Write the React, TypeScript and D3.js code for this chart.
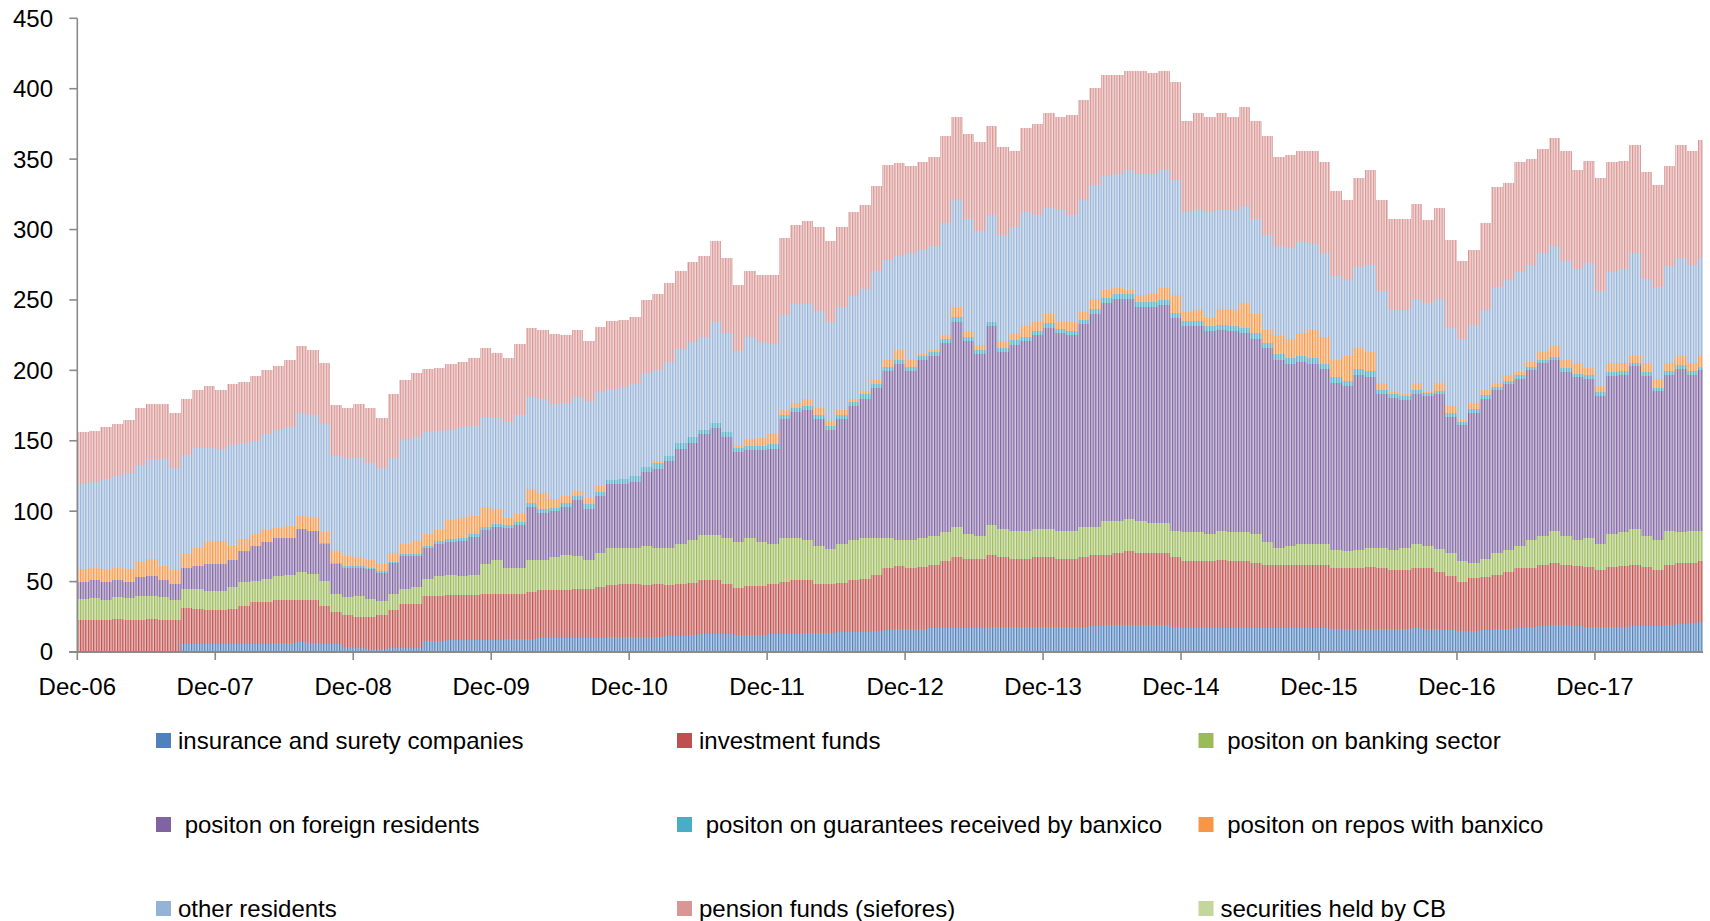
import React from 'react';
import * as d3 from 'd3';

// x axis labels, one per December, and y axis ticks
const xTickLabels = ['Dec-06', 'Dec-07', 'Dec-08', 'Dec-09', 'Dec-10', 'Dec-11', 'Dec-12', 'Dec-13', 'Dec-14', 'Dec-15', 'Dec-16', 'Dec-17'];
const yTicks = [0, 50, 100, 150, 200, 250, 300, 350, 400, 450];

// monthly values, Dec-06 .. Sep-18 (one row per year)
const insurance = [
  0, 0, 0, 0, 0, 0, 0, 0, 0, 5.9, 5.9, 5.9,
  5.9, 5.9, 5.9, 5.9, 5.9, 6.4, 6.4, 6.8, 6.6, 5.9, 5.4, 3.5,
  2.5, 2, 2, 2.5, 3, 3, 8, 8, 8.3, 8.3, 8.3, 8.5,
  8.8, 9, 9, 9.5, 10, 10, 10, 10, 10, 10, 10.5, 10.5,
  10.4, 11, 11, 11.5, 11.5, 12, 12.5, 13, 12.5, 12, 12, 12,
  12.5, 13, 13, 13.5, 13.5, 13.5, 14, 14, 14, 15, 15.6, 16,
  16, 16, 16.7, 16.7, 17, 17, 17, 17.5, 17.5, 17.5, 17.5, 17.5,
  17.5, 17.5, 17.5, 18, 18.3, 18.9, 18.9, 18.9, 18.9, 18.9, 18.9, 17.5,
  17, 17, 17, 17, 17, 17, 17, 16.7, 16.7, 16.7, 16.7, 16.7,
  16.7, 16.3, 16.3, 16.3, 16.3, 16.3, 16.3, 16.3, 17, 16.3, 16, 15.6,
  14.8, 15, 15.5, 16, 16.5, 17, 17.5, 18.5, 19, 18.9, 18.3, 18,
  17.5, 17.8, 18, 18.5, 18.5, 18.5, 19.5, 20.2, 20.5, 21.5,
];
const investmentFunds = [
  22.4, 22.4, 22.4, 23.6, 23, 23, 23.6, 23, 22.4, 25.5, 24.8, 24.1,
  24.1, 24.8, 27.1, 29.5, 29.5, 30.2, 30.2, 29.8, 30, 27.1, 22.9, 22.5,
  22.5, 23, 24.4, 27.5, 31, 31, 31.5, 32, 32.4, 32.4, 32.4, 33,
  32.2, 32, 32.5, 33.2, 34, 34, 34, 34.5, 34.5, 36.5, 37.3, 37.5,
  37.6, 36.4, 37, 35.9, 36.5, 37, 38.3, 37.8, 35.7, 33.6, 35, 35,
  35.7, 36.5, 37.8, 37.3, 34.7, 34.7, 35, 36.8, 38, 39.7, 44.4, 45,
  43.3, 44.6, 45.3, 47.9, 50.4, 49, 49, 51.2, 49.9, 48.5, 48.5, 49.9,
  49.9, 48.5, 48.5, 49.4, 50.4, 49.8, 51.1, 52.5, 51.1, 51.1, 51.1, 49.9,
  47.7, 47.7, 47.7, 48.2, 47.7, 47.7, 46.3, 45.3, 45.3, 45.3, 45.3, 45.3,
  45.3, 43, 43, 43, 44.3, 43, 41.7, 41.7, 42.3, 43, 41, 38.4,
  35.2, 37.5, 37.5, 39, 40.1, 42.3, 42.5, 43.5, 44.3, 43.1, 42.7, 42.6,
  40.5, 42.8, 43, 43.5, 42.1, 39.5, 42.5, 43.1, 42.8, 43.1,
];
const bankingSector = [
  15.3, 15.6, 14.2, 15.4, 15, 17, 16.4, 16, 14.2, 13.4, 14.1, 13.6,
  13.6, 15.3, 16.5, 15.3, 16.6, 17.4, 18.4, 20, 18.8, 17.7, 12.7, 13,
  15, 12.7, 10.1, 11.5, 11, 12.5, 12.5, 14, 14.3, 13.3, 14.3, 21.3,
  24, 19, 18.5, 22.3, 21, 23.6, 25, 23.5, 20.9, 23.5, 26.2, 26,
  26, 28.1, 26, 26.6, 28.8, 30.4, 32.5, 32.5, 32.5, 32.4, 33.7, 31,
  28.6, 31.2, 29.9, 28.6, 27.3, 24.8, 27.8, 28.6, 28.7, 26, 20.7, 18.5,
  20.2, 20.2, 20.2, 20.3, 21.6, 17.5, 16.2, 21.6, 20.2, 20.2, 20.2, 20.2,
  20.2, 20.2, 20.2, 21.6, 20.3, 24.3, 23, 22.9, 23, 21.6, 21.6, 18.8,
  20.2, 20.2, 18.8, 21, 20.2, 20.2, 20.2, 16.2, 12, 13.4, 14.8, 14.8,
  14.8, 13.4, 12.1, 13.4, 13.4, 14.7, 14.7, 16, 17.5, 16.1, 16, 16,
  14.6, 10.8, 13, 15, 16.1, 16.1, 19.5, 20.2, 22.9, 20.2, 18.5, 20.2,
  18.8, 22.9, 23.9, 25.6, 21.6, 21.5, 24.2, 21.6, 22.9, 21.6,
];
const foreignResidents = [
  11.8, 13, 12.9, 12, 12, 13, 14, 12, 11.4, 15.2, 16.2, 18.9,
  18.9, 19, 22.5, 24.8, 26, 27, 26, 30.4, 30.6, 26, 21.5, 21,
  20, 21.3, 19.9, 21.5, 23, 21.5, 22, 22.7, 23, 25, 26.7, 23.9,
  24, 28, 30.2, 38, 34, 32.4, 34, 40, 36.4, 40.6, 45, 45.5,
  47, 52.1, 56, 61.4, 67.7, 69, 71.7, 75.7, 71.7, 64, 62.6, 65.3,
  67.7, 84.7, 89.9, 92.6, 89.9, 84.6, 88.6, 95.1, 99.3, 106.8, 118.5, 124.9,
  119.9, 126.7, 128, 134.7, 145.5, 137.5, 129.4, 141.5, 125.4, 132.1, 134.8, 137.4,
  142.8, 140.2, 138.8, 144.1, 150.9, 155, 157.6, 156.3, 152.3, 153.7, 155, 151,
  146.9, 146.9, 144.2, 142.8, 142.8, 141.5, 138.8, 137.4, 133.5, 129.4, 129.4, 128,
  124, 118.6, 117.2, 124, 121.4, 109.3, 107.9, 105.2, 106.5, 106.6, 110, 97,
  96.4, 106.7, 114, 116, 117.3, 118.6, 120.5, 122.8, 120.8, 116.8, 115.5, 113.2,
  105.2, 112.5, 112.1, 115.4, 113.8, 105.5, 110.8, 116.1, 110.8, 113.8,
];
const guarantees = [
  0, 0, 0, 0, 0, 0, 0, 0, 0, 0, 0, 0,
  0, 0, 0, 0, 0, 0, 0, 0, 0, 0.5, 1, 1,
  1, 1, 1, 1, 1.5, 1.5, 1.5, 2, 2, 2, 2, 2,
  2, 2, 2, 2.5, 2.5, 2.5, 2.5, 3, 3, 3, 3, 3.5,
  4, 3.9, 4.5, 3.6, 3.9, 4, 2.6, 3.8, 3.9, 3, 3, 3,
  3, 3, 3, 3, 3, 3, 3, 3, 3, 3, 3, 3,
  3, 3, 3, 3, 3.5, 3, 3, 2.7, 3, 3, 3, 3,
  3, 3, 3, 3, 3.5, 3.5, 3.5, 3.5, 3.5, 3.5, 3.5, 3.5,
  3.5, 3.5, 3.5, 3.5, 3.5, 3.5, 4, 4, 4, 4, 4, 4,
  4, 4, 4, 4, 4, 3, 2.5, 2.5, 2.5, 2, 2, 2.5,
  2, 2.5, 2.5, 2.5, 2.5, 2.5, 2.5, 2.5, 2.5, 2.5, 2.5, 2.5,
  2.5, 2.5, 2.5, 2.5, 2.5, 2.5, 2.5, 2.5, 2.5, 2.5,
];
const reposBanxico = [
  9.5, 9, 9.5, 9, 9, 11, 12, 10, 10, 9.6, 13, 15.5,
  16.5, 10.5, 8, 8.5, 9, 7.4, 8.6, 9.7, 9.5, 7.8, 8.5, 7,
  6.6, 5, 5.4, 6, 7.2, 9.5, 8.5, 8, 14, 14.5, 13.1, 14.3,
  10.8, 5.5, 5.8, 10.2, 11.5, 6.5, 5.1, 3.4, 4.6, 4.4, 0, 0,
  0, 0, 0.9, 0, 0, 0, 0, 0, 0, 1, 5, 6,
  7.5, 3.6, 3.4, 4.7, 4.6, 3.4, 3.6, 2.2, 2, 2.5, 4.8, 7.4,
  5.1, 1.1, 1.1, 2.4, 7.3, 3.7, 3.7, 0, 5, 5.1, 7.8, 6.5,
  6.6, 5.1, 6.5, 5.1, 7.2, 5.9, 4.6, 3.3, 4.5, 5.9, 8.6, 12.6,
  5.9, 7.3, 6, 11.4, 11.4, 18.1, 13.6, 9.4, 13.5, 13.5, 16.2, 20.2,
  18.9, 12.2, 17.6, 14.9, 13.5, 5, 1.5, 1.6, 5.5, 0.6, 6, 5.5,
  2, 4.5, 3.5, 2.5, 4.5, 2.5, 3.5, 5.5, 7.5, 5.5, 7.5, 5.5,
  4.5, 6.5, 5.5, 4.5, 6.5, 6.5, 5.5, 6.5, 5.5, 7.5,
];
const otherResidents = [
  60, 61, 64, 65, 68, 69, 71, 76, 73, 70.4, 71, 67,
  65, 71.5, 68.6, 66, 67.5, 69.6, 70.4, 73.3, 73.1, 76.6, 67, 70,
  70.4, 69, 67.7, 68, 73.9, 74, 72, 70.3, 64, 64.1, 63.8, 64,
  64.2, 67.5, 70, 65.3, 66.6, 67, 66.4, 66.6, 68.9, 66.6, 65, 65,
  65, 66.5, 65.1, 67, 66.6, 67.6, 66.4, 71.6, 70.3, 67.5, 72.7, 67.7,
  63.8, 67.6, 70.4, 67.7, 69, 70.4, 72.8, 72.9, 72.8, 77.8, 71.6, 66.2,
  75.5, 74.1, 74.1, 79.6, 75.4, 79.6, 80.9, 75.5, 75.4, 75.4, 80.8, 75.5,
  75.3, 79.5, 75.5, 79.5, 80.9, 80.8, 80.9, 84.9, 86.3, 84.9, 83.6, 82.2,
  71.4, 71.4, 75.4, 70.1, 71.4, 68.7, 67.4, 67.4, 63.4, 64.7, 64.6, 60.7,
  59.3, 59.3, 53.9, 57.9, 62, 64.7, 58, 59.3, 59.3, 63.4, 60, 55,
  57, 55, 57, 68, 67, 71, 69, 70, 71, 71, 67, 74,
  67, 65, 67, 73, 60, 65, 69, 70, 70, 70,
];
const pensionFunds = [
  37, 36, 37, 37, 38, 40, 39, 39, 39, 40, 41, 43.7,
  42, 43, 43.4, 46, 46, 45, 47.5, 47, 46, 43.4, 36.7, 35,
  38, 39, 35.5, 45, 42.8, 45.4, 45, 45, 46.6, 46.4, 47.9, 49,
  46, 45.5, 50.5, 49, 48.9, 50, 48, 47.8, 42.7, 46.4, 48, 48,
  48, 52, 53.5, 55.7, 55.8, 57.3, 57.2, 57.2, 53.4, 46.9, 46.8, 48,
  49.2, 54.7, 56, 58.6, 60, 57.2, 57.2, 59.9, 59.9, 59.9, 67.4, 66.6,
  62, 62, 63.3, 62, 59.3, 60.7, 63.3, 63.3, 62.1, 54, 59.4, 64.6,
  67.4, 66, 71.4, 71.3, 68.7, 71.5, 70.1, 70.1, 72.8, 71.4, 70.1, 69.5,
  64.7, 68.7, 67.4, 68.7, 66, 70.1, 70, 70.2, 63.3, 66, 64.8, 66.1,
  64.7, 60.7, 56.6, 63.4, 67.4, 64.7, 64.7, 64.7, 67.4, 59, 64, 62.4,
  55.6, 53.7, 61.6, 71.2, 68.9, 77.7, 75.4, 74.1, 77.2, 77.8, 70.3, 73,
  80.9, 77.7, 77, 76.8, 75.9, 72.5, 71, 79.8, 80.8, 83.8,
];
const securitiesCB = [
  0, 0, 0, 0, 0, 0, 0, 0, 0, 0, 0, 0,
  0, 0, 0, 0, 0, 0, 0, 0, 0, 0, 0, 0,
  0, 0, 0, 0, 0, 0, 0, 0, 0, 0, 0, 0,
  0, 0, 0, 0, 0, 0, 0, 0, 0, 0, 0, 0,
  0, 0, 0, 0, 0, 0, 0, 0, 0, 0, 0, 0,
  0, 0, 0, 0, 0, 0, 0, 0, 0, 0, 0, 0,
  0, 0, 0, 0, 0, 0, 0, 0, 0, 0, 0, 0,
  0, 0, 0, 0, 0, 0, 0, 0, 0, 0, 0, 0,
  0, 0, 0, 0, 0, 0, 0, 0, 0, 0, 0, 0,
  0, 0, 0, 0, 0, 0, 0, 0, 0, 0, 0, 0,
  0, 0, 0, 0, 0, 0, 0, 0, 0, 0, 0, 0,
  0, 0, 0, 0, 0, 0, 0, 0, 0, 0,
];

const seriesLabels = [
  'insurance and surety companies',
  'investment funds',
  ' positon on banking sector',
  ' positon on foreign residents',
  ' positon on guarantees received by banxico',
  ' positon on repos with banxico',
  'other residents',
  'pension funds (siefores)',
  'securities held by CB',
];
const seriesColors = ['#4F81BD', '#C0504D', '#9BBB59', '#8064A2', '#4BACC6', '#F79646', '#95B3D7', '#D99694', '#C3D69B'];

const FONT = '"Liberation Sans", Arial, sans-serif';

export default function App() {
  const width = 1710;
  const height = 921;
  const values = [insurance, investmentFunds, bankingSector, foreignResidents, guarantees, reposBanxico, otherResidents, pensionFunds, securitiesCB];
  const keys = values.map((_, k) => 's' + k);
  const n = insurance.length;
  const rows = d3.range(n).map(i => {
    const r: any = {};
    keys.forEach((key, k) => { r[key] = values[k][i]; });
    return r;
  });
  const stacked = d3.stack().keys(keys)(rows);

  // last sample is only partly shown at the right edge
  const xEnd = n - 0.6;
  const x = d3.scaleLinear().domain([0, xEnd]).range([77.3, 1703]);
  const y = d3.scaleLinear().domain([0, 450]).range([652, 18.3]);
  const weekStep = (x(12) - x(0)) / 52.18;

  const area = d3.area<any>()
    .x(p => x(p.i))
    .y0(p => y(p.y0))
    .y1(p => y(p.y1))
    .curve(d3.curveStepAfter);

  const layers = stacked.map(layer => {
    const pts = layer.map((d, i) => ({ i, y0: d[0], y1: d[1] }));
    const last = pts[pts.length - 1];
    pts.push({ i: xEnd, y0: last.y0, y1: last.y1 });
    return area(pts);
  });

  const legendCols = [156, 677, 1198.5];
  const legendRows = [740.5, 824.5, 908.5];

  return (
    <div style={{ position: 'absolute', left: 0, top: 0 }}>
      <svg width={width} height={height} style={{ display: 'block', background: '#fff' }}>
        <defs>
          {seriesColors.map((c, k) => (
            <pattern key={k} id={'wk' + k} patternUnits="userSpaceOnUse" x={x(0)} y={0} width={weekStep} height={10}>
              <rect width={weekStep} height={10} fill={d3.interpolateRgb(c, '#ffffff')(0.45)} />
              <rect width={weekStep * 0.36} height={10} fill={c} />
              <rect x={weekStep * 0.86} width={weekStep * 0.14} height={10} fill="#ffffff" opacity={0.8} />
            </pattern>
          ))}
        </defs>

        <g shapeRendering="crispEdges">
          {layers.map((dPath, k) => (
            <path key={k} d={dPath || ''} fill={`url(#wk${k})`} />
          ))}
        </g>

        {/* y axis */}
        <line x1={x(0)} x2={x(0)} y1={y(450)} y2={y(0)} stroke="#8a8a8a" strokeWidth={1.6} />
        {yTicks.map(t => (
          <g key={t}>
            <line x1={x(0) - 8} x2={x(0)} y1={y(t)} y2={y(t)} stroke="#8a8a8a" strokeWidth={1.6} />
            <text x={53} y={y(t)} dy="0.35em" textAnchor="end" fontFamily={FONT} fontSize={24} fill="#000">{t}</text>
          </g>
        ))}

        {/* x axis */}
        <line x1={x(0) - 8} x2={x(xEnd)} y1={y(0)} y2={y(0)} stroke="#8a8a8a" strokeWidth={2} />
        {xTickLabels.map((lab, k) => (
          <g key={lab}>
            <line x1={x(k * 12)} x2={x(k * 12)} y1={y(0)} y2={y(0) + 8} stroke="#8a8a8a" strokeWidth={1.6} />
            <text x={x(k * 12)} y={687} dy="0.35em" textAnchor="middle" fontFamily={FONT} fontSize={24} fill="#000">{lab}</text>
          </g>
        ))}

        {/* legend */}
        {seriesLabels.map((lab, k) => {
          const cx = legendCols[k % 3];
          const cy = legendRows[Math.floor(k / 3)];
          return (
            <g key={k}>
              <rect x={cx} y={cy - 7.5} width={15} height={15} fill={seriesColors[k]} />
              <text x={cx + 22} y={cy} dy="0.35em" fontFamily={FONT} fontSize={24} fill="#000" style={{ whiteSpace: 'pre' }}>{lab}</text>
            </g>
          );
        })}
      </svg>
    </div>
  );
}
